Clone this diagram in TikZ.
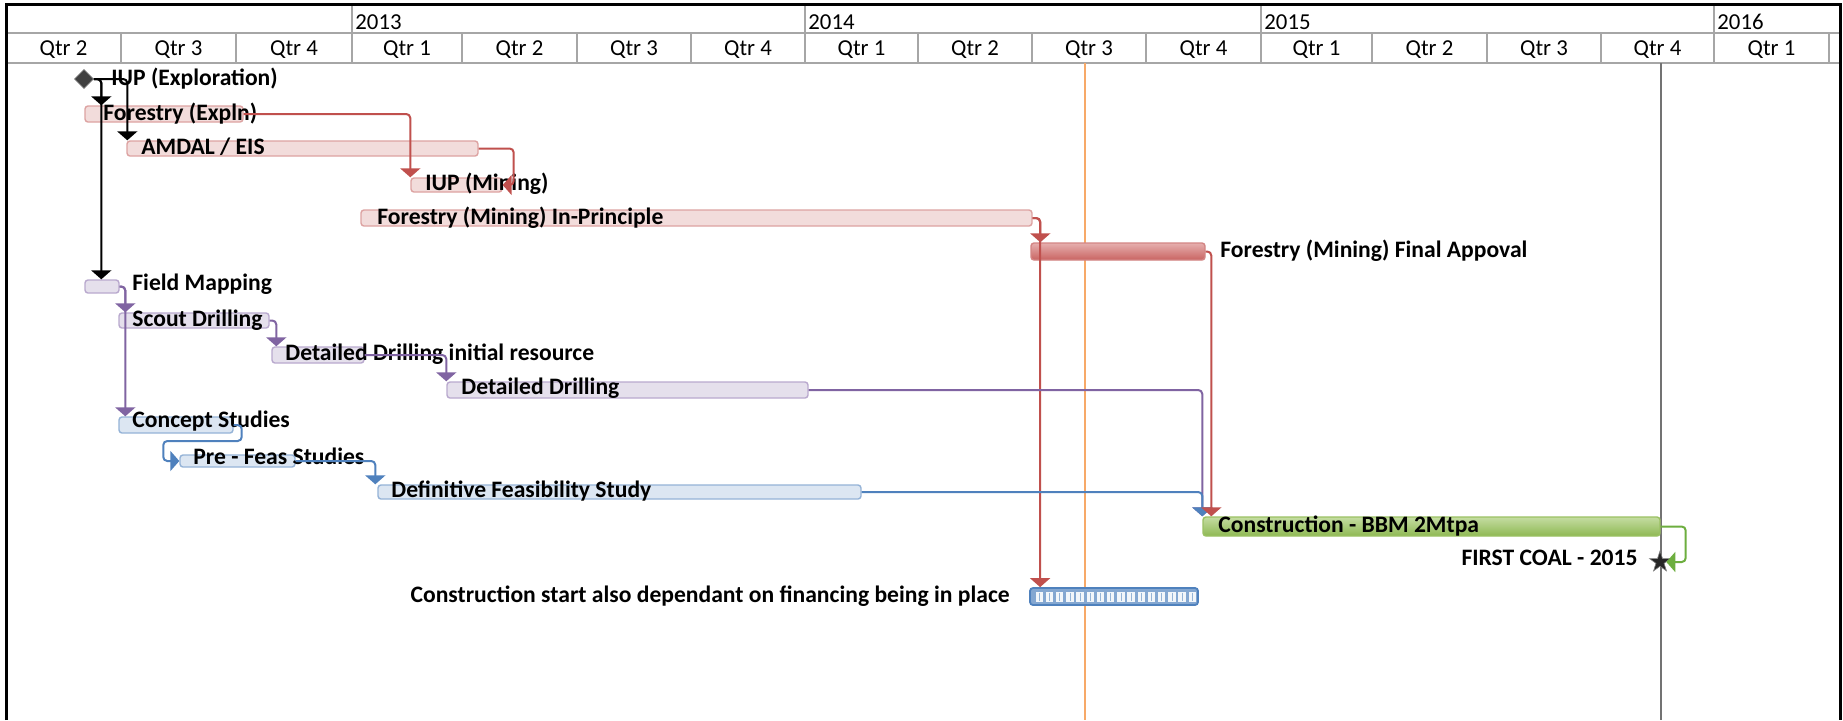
\documentclass[tikz,border=0pt]{standalone}
\usepackage{fontspec}
\setmainfont{Carlito}
\usetikzlibrary{arrows.meta,shapes.geometric,fit}
\definecolor{pinkfill}{HTML}{F2DCDB}
\definecolor{pinkedge}{HTML}{DDA3A2}
\definecolor{redline}{HTML}{C0504D}
\definecolor{crittop}{HTML}{E6AFAE}
\definecolor{critbot}{HTML}{C96462}
\definecolor{critedge}{HTML}{D38584}
\definecolor{purfill}{HTML}{E5E0EC}
\definecolor{puredge}{HTML}{B9A9CE}
\definecolor{purline}{HTML}{8064A2}
\definecolor{blufill}{HTML}{DCE6F2}
\definecolor{bluedge}{HTML}{95B3D7}
\definecolor{bluline}{HTML}{4F81BD}
\definecolor{grntop}{HTML}{C5DDA2}
\definecolor{grnbot}{HTML}{8EB853}
\definecolor{grnedge}{HTML}{9BC163}
\definecolor{grnline}{HTML}{6DAE3F}
\definecolor{gridgray}{HTML}{A6A6A6}
\definecolor{statusor}{HTML}{F7A968}
\begin{document}
\begin{tikzpicture}[x=0.5pt,y=-0.5pt,
  bar/.style={rectangle, rounded corners=1.5pt, inner sep=0pt, line width=0.7pt},
  redbar/.style={bar, fill=pinkfill, draw=pinkedge},
  critbar/.style={bar, top color=crittop, bottom color=critbot, draw=critedge},
  purbar/.style={bar, fill=purfill, draw=puredge},
  blubar/.style={bar, fill=blufill, draw=bluedge},
  grnbar/.style={bar, top color=grntop, bottom color=grnbot, draw=grnedge},
  finbar/.style={bar, fill=bluline!70, draw=bluline, line width=0.9pt},
  lbl/.style={font=\bfseries\fontsize{11.8}{12}\selectfont, anchor=west, inner sep=0pt, text height=7.6pt, text depth=0pt},
  lble/.style={lbl, anchor=east},
  hdr/.style={font=\fontsize{11.4}{12}\selectfont, inner sep=0pt, text height=7.4pt, text depth=0pt},
  link/.style={line width=1pt, rounded corners=2pt, -{Triangle[width=10pt,length=4.5pt]}},
]
\useasboundingbox (0,0) rectangle (1843,720);
\fill[white] (0,0) rectangle (1843,720);

% ---------- header grid ----------
\draw[gridgray, line width=0.9pt] (6,33) -- (1840,33);
\draw[gridgray, line width=0.9pt] (6,63) -- (1840,63);
\foreach \b in {121,236,352,462,577,691,805,918,1032,1146,1261,1372,1487,1601,1714,1829}
  \draw[gridgray, line width=0.9pt] (\b,33) -- (\b,63);
\foreach \b in {352,805,1261,1714}
  \draw[gridgray, line width=0.9pt] (\b,4) -- (\b,33);
\node[hdr, anchor=west] (y13) at (355,22) {2013};
\node[hdr, anchor=west] (y14) at (808,22) {2014};
\node[hdr, anchor=west] (y15) at (1264,22) {2015};
\node[hdr, anchor=west] (y16) at (1717,22) {2016};
\foreach \a/\b/\q [count=\i] in {6/121/2,121/236/3,236/352/4,352/462/1,462/577/2,577/691/3,691/805/4,805/918/1,918/1032/2,1032/1146/3,1146/1261/4,1261/1372/1,1372/1487/2,1487/1601/3,1601/1714/4,1714/1829/1}
  \node[hdr] (q\i) at ({(\a+\b)/2},48) {Qtr \q};

% ---------- outer frame ----------
\draw[black, line width=1.5pt] (6,720) -- (6,4) -- (1840,4) -- (1840,720);

% ---------- status lines ----------
\draw[statusor, line width=1pt] (1085,63) -- (1085,720);
\draw[black!55, line width=1pt] (1661,63) -- (1661,720);

% ---------- bars ----------
\node[redbar, fit={(85,106) (243,122)}] (forexp) {};
\node[redbar, fit={(127,141) (478,156)}] (amdal) {};
\node[redbar, fit={(411,178) (502,192)}] (iupmin) {};
\node[redbar, fit={(361,210) (1032,226)}] (forinp) {};
\node[critbar, fit={(1031,243) (1205,260)}] (forfin) {};
\node[purbar, fit={(85,280) (119,293)}] (field) {};
\node[purbar, fit={(119,313) (269,328)}] (scout) {};
\node[purbar, fit={(272,347) (364,363)}] (ddir) {};
\node[purbar, fit={(447,382) (808,398)}] (dd) {};
\node[blubar, fit={(119,417) (233,433)}] (concept) {};
\node[blubar, fit={(180,455) (295,467)}] (prefeas) {};
\node[blubar, fit={(378,485) (861,499)}] (dfs) {};
\node[grnbar, fit={(1203,517) (1660,536)}] (constr) {};
\node[finbar, fit={(1030,588) (1198,605)}] (fin) {};
\foreach \i in {0,...,15} {
  \fill[white, opacity=0.9] ({1035.5+\i*10.2},591.5) rectangle ++(7.5,10);
  \draw[bluline!60, line width=0.3pt] ({1039.25+\i*10.2},592.5) -- ++(0,8);
}

% ---------- milestones ----------
\node[diamond, fill=black!75, draw=black!55, line width=0.4pt, minimum size=9.5pt, inner sep=0pt] (dia) at (84,79) {};
\node[star, star points=5, star point ratio=2.6, fill=black!85, draw=black!50, line width=0.3pt, minimum size=11pt, inner sep=0pt] (coal) at (1660,562) {};

% ---------- labels ----------
\node[lbl] (t1) at (111,78) {IUP (Exploration)};
\node[lbl] (t2) at (103,113) {Forestry (Expln)};
\node[lbl] (t3) at (141,147) {AMDAL / EIS};
\node[lbl] (t4) at (425,183) {IUP (Mining)};
\node[lbl] (t5) at (377,217) {Forestry (Mining) In-Principle};
\node[lbl] (t6) at (1220,250) {Forestry (Mining) Final Appoval};
\node[lbl] (t7) at (132,283) {Field Mapping};
\node[lbl] (t8) at (132,319) {Scout Drilling};
\node[lbl] (t9) at (285,353) {Detailed Drilling initial resource};
\node[lbl] (t10) at (461,387) {Detailed Drilling};
\node[lbl] (t11) at (132,420) {Concept Studies};
\node[lbl] (t12) at (193,457) {Pre - Feas Studies};
\node[lbl] (t13) at (391,490) {Definitive Feasibility Study};
\node[lbl] (t14) at (1218,525) {Construction - BBM 2Mtpa};
\node[lble] (t15) at (1638,558) {FIRST COAL - 2015};
\node[lble] (t16) at (1010,595) {Construction start also dependant on financing being in place};

% ---------- connectors ----------
\draw[link, black] (dia.east) -| ([xshift=8.5pt]forexp.north west);
\draw[link, black] (dia.east) -| ([xshift=8.5pt]field.north west);
\draw[link, black] (dia.east) -| ([xshift=0.5pt]amdal.north west);

\draw[link, redline] (forexp.east) -| (iupmin.north west);
\draw[link, redline] (amdal.east) -- ++(35,0) |- (iupmin.east);
\draw[link, redline] (forinp.east) -| ([xshift=5pt]forfin.north west);
\draw[link, redline] (forinp.east) -| ([xshift=5.5pt]fin.north west);

\draw[link, purline] (field.east) -| ([xshift=3.5pt]scout.north west);
\draw[link, purline] (field.east) -| ([xshift=3.5pt]concept.north west);
\draw[link, purline] (scout.east) -| ([xshift=2.5pt]ddir.north west);
\draw[link, purline] (ddir.east) -| (dd.north west);
\draw[link, purline] (dd.east) -| (constr.north west);

\draw[link, bluline] (concept.east) -- ++(8,0) -- ++(0,16) -| ([xshift=-8pt]prefeas.west) -- (prefeas.west);
\draw[link, bluline] (prefeas.east) -| ([xshift=-1pt]dfs.north west);
\draw[link, bluline] (dfs.east) -| (constr.north west);

\draw[link, redline] (forfin.east) -| ([xshift=4.5pt]constr.north west);

\draw[link, grnline] (constr.east) -- ++(25,0) |- (coal.east);
\end{tikzpicture}
\end{document}
